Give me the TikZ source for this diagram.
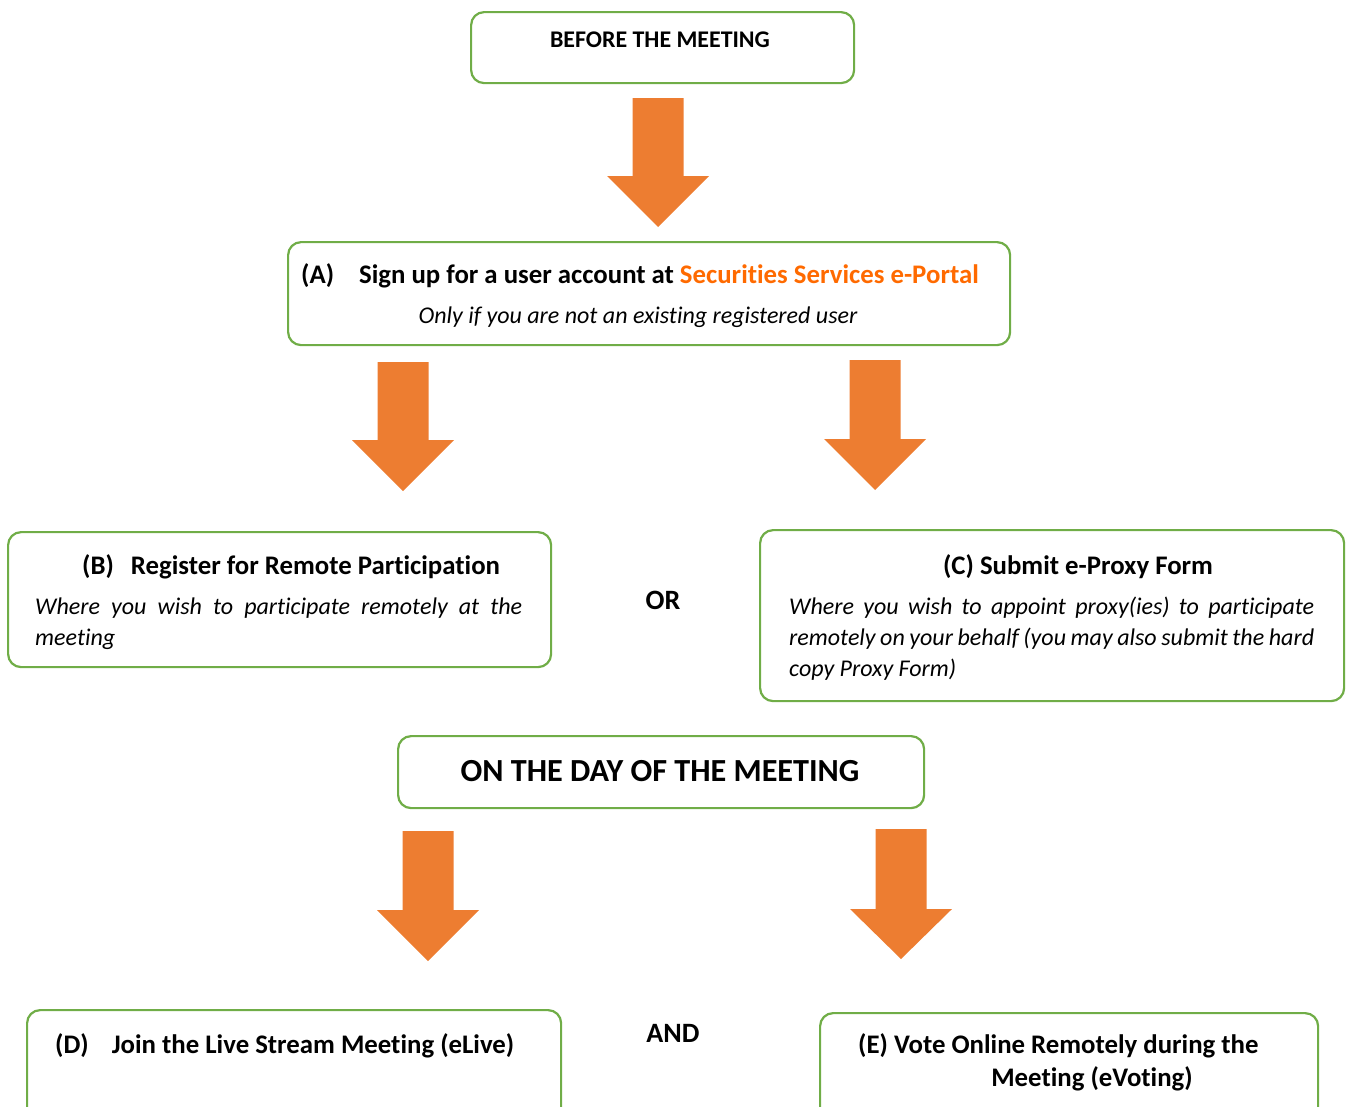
\documentclass[tikz,border=0pt]{standalone}
\usepackage{fontspec}
\setmainfont[Ligatures=NoCommon]{Carlito}
\definecolor{grn}{HTML}{70AD47}
\definecolor{org}{HTML}{ED7D31}
\definecolor{ltxt}{HTML}{FF6A00}
\newcommand\blkarrow[4]{%
  \fill[org] ({#1-25.5},#2) -- ({#1+25.5},#2) -- ({#1+25.5},#3) -- ({#1+51},#3)
    -- (#1,#4) -- ({#1-51},#3) -- ({#1-25.5},#3) -- cycle;}
\begin{document}
\begin{tikzpicture}[x=1pt,y=-1pt,
  box/.style={draw=grn, line width=2.2pt, rounded corners=13pt, anchor=north west, inner sep=0pt},
  ttl/.style={font=\fontsize{26.8}{32}\selectfont\bfseries, inner sep=0pt, anchor=base west},
  itl/.style={font=\fontsize{24}{31}\selectfont\itshape, inner sep=0pt, anchor=base west, align=justify}]
\useasboundingbox (0,0) rectangle (1348,1106);
\clip (0,0) rectangle (1348,1106);
% boxes
\node[box, minimum width=383pt, minimum height=71pt] (before) at (470,11) {};
\node[box, minimum width=722pt, minimum height=103pt] (boxA) at (287,241) {};
\node[box, minimum width=543pt, minimum height=135pt] (boxB) at (7,531) {};
\node[box, minimum width=584pt, minimum height=171pt] (boxC) at (759,529) {};
\node[box, minimum width=526pt, minimum height=72pt] (day) at (397,735) {};
\node[box, minimum width=534pt, minimum height=130pt] (boxD) at (26,1009) {};
\node[box, minimum width=498pt, minimum height=130pt] (boxE) at (819,1012) {};
% arrows
\blkarrow{658}{98}{176}{227}
\blkarrow{403}{362}{440}{491}
\blkarrow{875}{360}{439}{490}
\blkarrow{428}{831}{910}{961}
\blkarrow{901}{829}{909}{959}
% texts
\node[font=\fontsize{23.9}{28}\selectfont\bfseries, inner sep=0pt, anchor=base] (tbefore) at (660,47) {BEFORE THE MEETING};
\node[ttl] (tA) at (301,283) {(A)\hspace{25pt}Sign up for a user account at \textcolor{ltxt}{Securities Services e-Portal}};
\node[font=\fontsize{24}{28}\selectfont\itshape, inner sep=0pt, anchor=base] (sA) at (638,323) {Only if you are not an existing registered user};
\node[ttl] (tB) at (82,574) {(B)\hspace{17pt}Register for Remote Participation};
\node[itl, text width=487pt] (sB) at (35,614) {Where you wish to participate remotely at the\linebreak meeting};
\node[ttl, anchor=base] (tC) at (1078,574) {(C) Submit e-Proxy Form};
\node[itl, text width=525pt] (sC) at (789,614) {Where you wish to appoint proxy(ies) to participate\linebreak remotely on your behalf (you may also submit the hard\linebreak copy Proxy Form)};
\node[font=\fontsize{28}{32}\selectfont\bfseries, inner sep=0pt, anchor=base] (tOR) at (663,609) {OR};
\node[font=\fontsize{32.2}{38}\selectfont\bfseries, inner sep=0pt, anchor=base] (tday) at (660,781) {ON THE DAY OF THE MEETING};
\node[ttl] (tD) at (55,1053) {(D)\hspace{23pt}Join the Live Stream Meeting (eLive)};
\node[font=\fontsize{28}{32}\selectfont\bfseries, inner sep=0pt, anchor=base] (tAND) at (673,1042) {AND};
\node[ttl] (tE1) at (858,1053) {(E) Vote Online Remotely during the};
\node[ttl, anchor=base] (tE2) at (1092,1086) {Meeting (eVoting)};
\end{tikzpicture}
\end{document}
